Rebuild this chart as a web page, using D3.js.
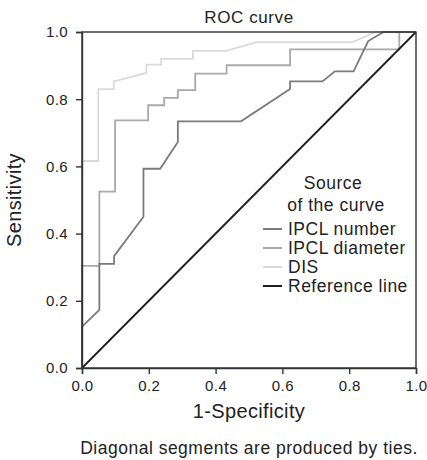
<!DOCTYPE html>
<html lang="en">
<head>
<meta charset="UTF-8">
<title>ROC curve</title>
<script src="https://d3js.org/d3.v7.min.js"></script>
<style>
  body { margin: 0; background: #fff; }
  text { font-family: "Liberation Sans", Arial, Helvetica, sans-serif; fill: #222; }
</style>
</head>
<body>
<div id="chart"></div>
<script>
// ROC points as [1-specificity, sensitivity]
const ipclNumber = [[0, 0], [0, 0.123], [0.052, 0.173], [0.052, 0.31], [0.096, 0.31], [0.096, 0.333],
  [0.184, 0.45], [0.184, 0.593], [0.234, 0.593], [0.287, 0.673], [0.287, 0.734], [0.476, 0.734],
  [0.623, 0.83], [0.623, 0.853], [0.72, 0.853], [0.757, 0.883], [0.813, 0.883], [0.857, 0.973],
  [0.903, 1], [1, 1]];
const ipclDiameter = [[0, 0], [0, 0.304], [0.052, 0.304], [0.052, 0.525], [0.099, 0.525], [0.099, 0.737],
  [0.198, 0.737], [0.198, 0.782], [0.246, 0.782], [0.246, 0.804], [0.287, 0.804], [0.287, 0.827],
  [0.339, 0.827], [0.339, 0.876], [0.433, 0.876], [0.433, 0.901], [0.623, 0.901], [0.623, 0.948],
  [0.95, 0.948], [0.95, 1], [1, 1]];
const dis = [[0, 0], [0, 0.616], [0.049, 0.616], [0.049, 0.83], [0.095, 0.83], [0.095, 0.853],
  [0.193, 0.878], [0.193, 0.903], [0.237, 0.903], [0.237, 0.92], [0.332, 0.92], [0.332, 0.944],
  [0.431, 0.944], [0.523, 0.97], [0.81, 0.97], [0.88, 1], [1, 1]];
const referenceLine = [[0, 0], [1, 1]];

const seriesNames = ["IPCL number", "IPCL diameter", "DIS", "Reference line"];
const xTicks = [0, 0.2, 0.4, 0.6, 0.8, 1.0];
const yTicks = [0, 0.2, 0.4, 0.6, 0.8, 1.0];

const W = 427, H = 460;
const margin = { top: 32, right: 11, bottom: 92, left: 82 };
const width = W - margin.left - margin.right,
  height = H - margin.top - margin.bottom;

const svg = d3.select("#chart").append("svg")
  .attr("width", W)
  .attr("height", H);

const g = svg.append("g")
  .attr("transform", `translate(${margin.left},${margin.top})`);

const x = d3.scaleLinear().domain([0, 1]).range([0, width]);
const y = d3.scaleLinear().domain([0, 1]).range([height, 0]);

const line = d3.line().x(d => x(d[0])).y(d => y(d[1]));

// curves (light ones first so the darker ones sit on top)
const series = [
  { name: seriesNames[2], data: dis, color: "#dadada" },
  { name: seriesNames[1], data: ipclDiameter, color: "#a9a9a9" },
  { name: seriesNames[0], data: ipclNumber, color: "#7b7b7b" },
  { name: seriesNames[3], data: referenceLine, color: "#1e1e1e" }
];

g.selectAll("path.curve")
  .data(series)
  .enter()
  .append("path")
  .attr("class", "curve")
  .attr("d", d => line(d.data))
  .attr("fill", "none")
  .attr("stroke", d => d.color)
  .attr("stroke-width", 1.8);

// box + axes
g.append("rect")
  .attr("width", width)
  .attr("height", height)
  .attr("fill", "none")
  .attr("stroke", "#333")
  .attr("stroke-width", 1.4);

const xAxis = g.append("g")
  .attr("transform", `translate(0,${height})`)
  .call(d3.axisBottom(x).tickValues(xTicks).tickFormat(d3.format(".1f")).tickSize(6).tickPadding(6));
const yAxis = g.append("g")
  .call(d3.axisLeft(y).tickValues(yTicks).tickFormat(d3.format(".1f")).tickSize(6).tickPadding(8));

[xAxis, yAxis].forEach(a => {
  a.select(".domain").attr("stroke", "#333").attr("stroke-width", 1.4);
  a.selectAll(".tick line").attr("stroke", "#333").attr("stroke-width", 1.4);
  a.selectAll(".tick text")
    .attr("font-size", 15)
    .attr("letter-spacing", 0.4)
    .attr("font-family", "Liberation Sans, Arial, sans-serif")
    .attr("fill", "#222");
});

// titles
svg.append("text")
  .attr("x", margin.left + width / 2)
  .attr("y", 23)
  .attr("text-anchor", "middle")
  .attr("font-size", 17)
  .attr("letter-spacing", 0.6)
  .text("ROC curve");

svg.append("text")
  .attr("x", margin.left + width / 2)
  .attr("y", 418)
  .attr("text-anchor", "middle")
  .attr("font-size", 20)
  .attr("letter-spacing", 0.35)
  .text("1-Specificity");

svg.append("text")
  .attr("transform", `translate(21,${margin.top + height / 2}) rotate(-90)`)
  .attr("text-anchor", "middle")
  .attr("font-size", 20)
  .attr("letter-spacing", 0.35)
  .text("Sensitivity");

svg.append("text")
  .attr("x", margin.left + width / 2)
  .attr("y", 454)
  .attr("text-anchor", "middle")
  .attr("font-size", 17.5)
  .attr("letter-spacing", 0.5)
  .text("Diagonal segments are produced by ties.");

// legend
const legend = svg.append("g");
legend.append("text")
  .attr("x", 333).attr("y", 189)
  .attr("text-anchor", "middle")
  .attr("font-size", 17.5)
  .attr("letter-spacing", 0.5)
  .text("Source");
legend.append("text")
  .attr("x", 336).attr("y", 211)
  .attr("text-anchor", "middle")
  .attr("font-size", 17.5)
  .attr("letter-spacing", 0.5)
  .text("of the curve");

const legendItems = [series[2], series[1], series[0], series[3]];
const items = legend.selectAll("g.item")
  .data(legendItems)
  .enter()
  .append("g")
  .attr("class", "item")
  .attr("transform", (d, i) => `translate(263,${229 + i * 19})`);

items.append("line")
  .attr("x1", 0).attr("x2", 19)
  .attr("stroke", d => d.color)
  .attr("stroke-width", 2);

items.append("text")
  .attr("x", 25)
  .attr("y", 6)
  .attr("font-size", 17.5)
  .attr("letter-spacing", 0.5)
  .text(d => d.name);
</script>
</body>
</html>
